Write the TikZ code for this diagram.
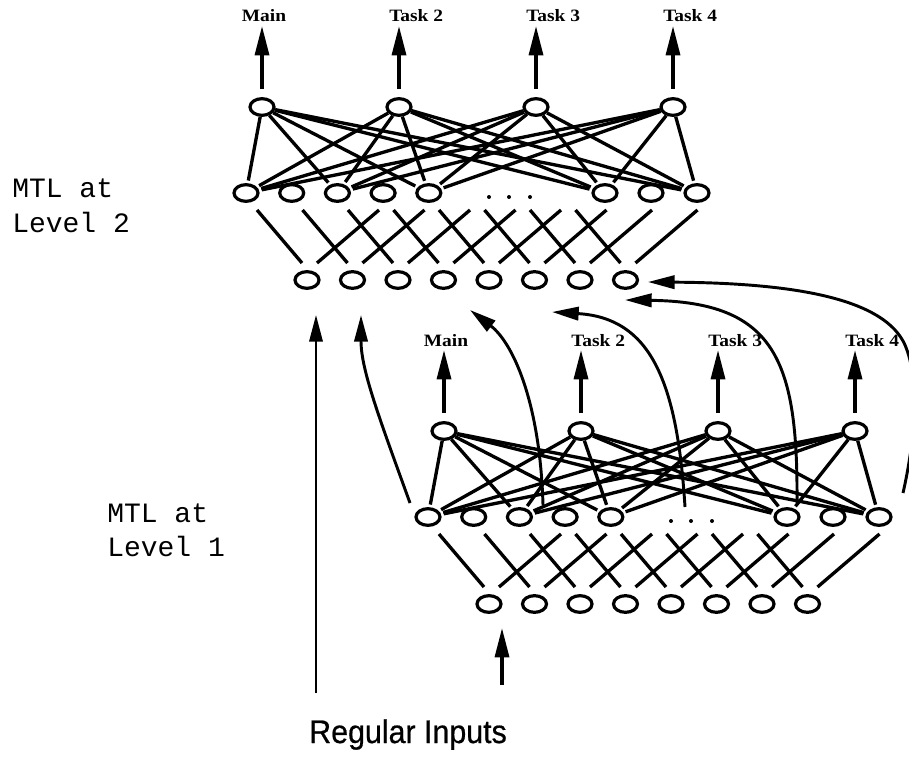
\documentclass[tikz,border=0pt]{standalone}
\usepackage{fontspec}
\usetikzlibrary{shapes.geometric,arrows.meta}
\newfontfamily\taskfont[FakeStretch=1.12]{Liberation Serif}
\newfontfamily\mtlfont{Liberation Mono}
\newfontfamily\regfont[FakeStretch=0.93,FakeBold=0.6]{Liberation Sans}
\tikzset{
  neuron/.style={ellipse,draw,line width=2.4pt,minimum width=18pt,minimum height=12.5pt,inner sep=0pt},
  conn/.style={line width=2.5pt},
  outarrow/.style={line width=2.5pt,-{Triangle[length=22pt,width=10.5pt]}},
  curvearrow/.style={line width=2.2pt,-{Triangle[length=20pt,width=10pt]}},
  tasklabel/.style={font=\taskfont\bfseries\fontsize{13}{15}\selectfont,inner sep=0pt},
  mtllabel/.style={font=\mtlfont\fontsize{21}{24}\selectfont,inner sep=0pt,anchor=base west},
}
\newcommand\mtlnet[1]{%
  \foreach \i in {0,...,3} {
    \node[neuron] (#1o\i) at ({262+137*\i},107) {};
    \coordinate (#1t\i) at ({262+137*\i},26);
    \draw[outarrow] ([yshift=6pt]#1o\i.north) -- (#1t\i);
  }
  \foreach \i/\x in {0/246,1/291.7,2/337.4,3/383.1,4/428.8,5/605,6/651,7/697}
    \node[neuron] (#1h\i) at (\x,193) {};
  \foreach \i in {0,...,7}
    \node[neuron] (#1in\i) at ({307+45.5*\i},280) {};
  \foreach \o in {0,...,3}
    \foreach \h in {0,2,4,5,7}
      \draw[conn,shorten >=2pt] (#1o\o) -- (#1h\h);
  \foreach \i in {0,...,7} {
    \draw[conn] ({257+45.5*\i},210) -- ({302+45.5*\i},263);
    \draw[conn] ({317+45.5*\i},263) -- ({379+45.5*\i},210);
  }
  \foreach \x in {489,509,530} \fill (\x,197) circle (1.5pt);
  \node[tasklabel,anchor=base] (#1lab0) at (264,22) {Main};
  \foreach \i/\t in {1/Task 2,2/Task 3,3/Task 4}
    \node[tasklabel,anchor=base west] (#1lab\i) at ({252+137*\i},22) {\t};
}
\begin{document}
\begin{tikzpicture}[x=0.75pt,y=-0.75pt]
\useasboundingbox (0,0) rectangle (909,756);
\clip (0,0) rectangle (909,756);
\fill[white] (0,0) rectangle (909,756);
% level 2 network
\begin{scope}
\mtlnet{T}
\end{scope}
% level 1 network
\begin{scope}[shift={(182,324)}]
\mtlnet{B}
\end{scope}
% labels
\node[mtllabel] (l2a) at (12,197) {MTL at};
\node[mtllabel] (l2b) at (12,232) {Level 2};
\node[mtllabel] (l1a) at (107,522) {MTL at};
\node[mtllabel] (l1b) at (107,556) {Level 1};
\node[font=\regfont\fontsize{24.5}{28}\selectfont,anchor=base west,inner sep=0pt] (reg) at (309,743) {Regular Inputs};
% regular inputs
\coordinate (riS) at (316,693);
\coordinate (riT) at (316,315);
\draw[curvearrow,line width=1.8pt] (riS) -- (riT);
\coordinate (inS) at (502,685);
\coordinate (inT) at (502,628);
\draw[outarrow] (inS) -- (inT);
% feeding curves
\coordinate (c1s) at (410,503); \coordinate (c1t) at (361,315);
\draw[curvearrow] (c1s) .. controls (380,420) and (361,370) .. (c1t);
\coordinate (c2s) at (543,505); \coordinate (c2t) at (470,310);
\draw[curvearrow] (c2s) .. controls (540,400) and (512,342) .. (c2t);
\coordinate (c3s) at (685,507); \coordinate (c3t) at (552,312);
\draw[curvearrow] (c3s) .. controls (677,380) and (650,318) .. (c3t);
\coordinate (c4s) at (797,503); \coordinate (c4t) at (625,300);
\draw[curvearrow] (c4s) .. controls (798,360) and (775,302) .. (c4t);
\coordinate (c5s) at (903,493); \coordinate (c5m) at (905,345); \coordinate (c5t) at (648,282);
\draw[curvearrow] (c5s) .. controls (915,440) and (920,380) .. (c5m) .. controls (885,300) and (800,283) .. (c5t);
\end{tikzpicture}
\end{document}
